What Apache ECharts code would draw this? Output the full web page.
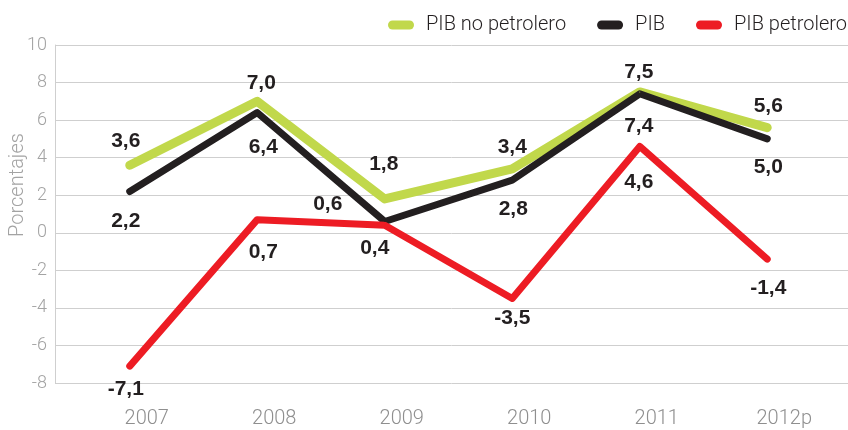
<!DOCTYPE html>
<html>
<head>
<meta charset="utf-8">
<script src="https://cdn.jsdelivr.net/npm/echarts@6/dist/echarts.min.js"></script>
<style>
  html, body { margin: 0; padding: 0; background: #fff; }
  #chart { width: 848px; height: 430px; }
</style>
</head>
<body>
<div id="chart"></div>
<script>
// categorías y valores (%)
const years = ['2007', '2008', '2009', '2010', '2011', '2012p']
const pibNoPetrolero = [3.6, 7.0, 1.8, 3.4, 7.5, 5.6]
const pib = [2.2, 6.4, 0.6, 2.8, 7.4, 5.0]
const pibPetrolero = [-7.1, 0.7, 0.4, -3.5, 4.6, -1.4]

// desplazamiento de etiquetas [dx, dy] respecto al punto
const offNoPetrolero = [[-4, -24], [4, -18], [-1, -35], [0, -22], [-1, -20], [1, -21]]
const offPib = [[-4, 30], [6, 35], [-57, -17], [1, 29], [-1, 32], [1, 28]]
const offPetrolero = [[-4, 23], [6, 33], [-10, 23], [0, 20], [-1, 36], [1, 29]]

const FONT = 'Roboto, "Liberation Sans", Arial, sans-serif'
const BOLD = '"Liberation Sans", Arial, sans-serif'
// icono de leyenda en forma de píldora
const PILL = 'path://M4.5,0 L21.5,0 A4.5,4.5 0 0 1 21.5,9 L4.5,9 A4.5,4.5 0 0 1 4.5,0 Z'

function withLabels (values, offsets) {
  return values.map((v, i) => ({
    value: v,
    label: { offset: offsets[i] }
  }))
}

function makeSeries (name, values, offsets, color, width) {
  return {
    name: name,
    type: 'line',
    xAxisIndex: 1,
    yAxisIndex: 1,
    data: withLabels(values, offsets),
    symbol: 'circle',
    symbolSize: 1,
    itemStyle: { color: color },
    lineStyle: { color: color, width: width, cap: 'round', join: 'round' },
    label: {
      show: true,
      position: 'inside',
      color: '#231f20',
      fontFamily: BOLD,
      fontWeight: 'bold',
      fontSize: 21,
      formatter: p => p.value.toFixed(1).replace('.', ',')
    },
    emphasis: { disabled: true },
    animation: false
  }
}

const chart = echarts.init(document.getElementById('chart'))
const option = {
  backgroundColor: '#fff',
  animation: false,
  legend: {
    top: 10,
    right: -4,
    icon: PILL,
    itemWidth: 26,
    itemHeight: 9,
    itemGap: 31,
    textStyle: {
      fontFamily: FONT,
      fontWeight: 300,
      fontSize: 20,
      color: '#231f20',
      padding: [0, 0, 0, 7]
    },
    data: ['PIB no petrolero', 'PIB', 'PIB petrolero']
  },
  grid: [
    { left: 55, right: 0, top: 45, bottom: 47 },
    { left: 66, right: 17, top: 45, bottom: 47 }
  ],
  xAxis: [
    { type: 'category', gridIndex: 0, data: years, show: false },
    {
      type: 'category',
      gridIndex: 1,
      data: years,
      boundaryGap: true,
      axisLine: { show: false },
      axisTick: { show: false },
      axisLabel: {
        margin: 26,
        padding: [0, 0, 0, 34],
        color: '#8f8f8f',
        fontFamily: FONT,
        fontWeight: 300,
        fontSize: 20
      }
    }
  ],
  yAxis: [
    {
      type: 'value',
      gridIndex: 0,
      min: -8,
      max: 10,
      interval: 2,
      axisLine: { show: true, lineStyle: { color: '#cfcfcf', width: 1 } },
      axisTick: { show: false },
      splitLine: { lineStyle: { color: '#cfcfcf', width: 1 } },
      axisLabel: {
        margin: 8,
        color: '#a3a3a3',
        fontFamily: FONT,
        fontWeight: 300,
        fontSize: 18
      }
    },
    { type: 'value', gridIndex: 1, min: -8, max: 10, interval: 2, show: false, splitLine: { show: false } }
  ],
  graphic: [
    {
      type: 'text',
      x: 18,
      y: 185,
      rotation: Math.PI / 2,
      style: {
        text: 'Porcentajes',
        fill: '#a3a3a3',
        font: '300 20px ' + FONT,
        align: 'center',
        verticalAlign: 'middle'
      }
    }
  ],
  series: [
    makeSeries('PIB no petrolero', pibNoPetrolero, offNoPetrolero, '#c1d84b', 9),
    makeSeries('PIB', pib, offPib, '#231f20', 7),
    makeSeries('PIB petrolero', pibPetrolero, offPetrolero, '#ed1c24', 7)
  ]
}
chart.setOption(option)
</script>
</body>
</html>
